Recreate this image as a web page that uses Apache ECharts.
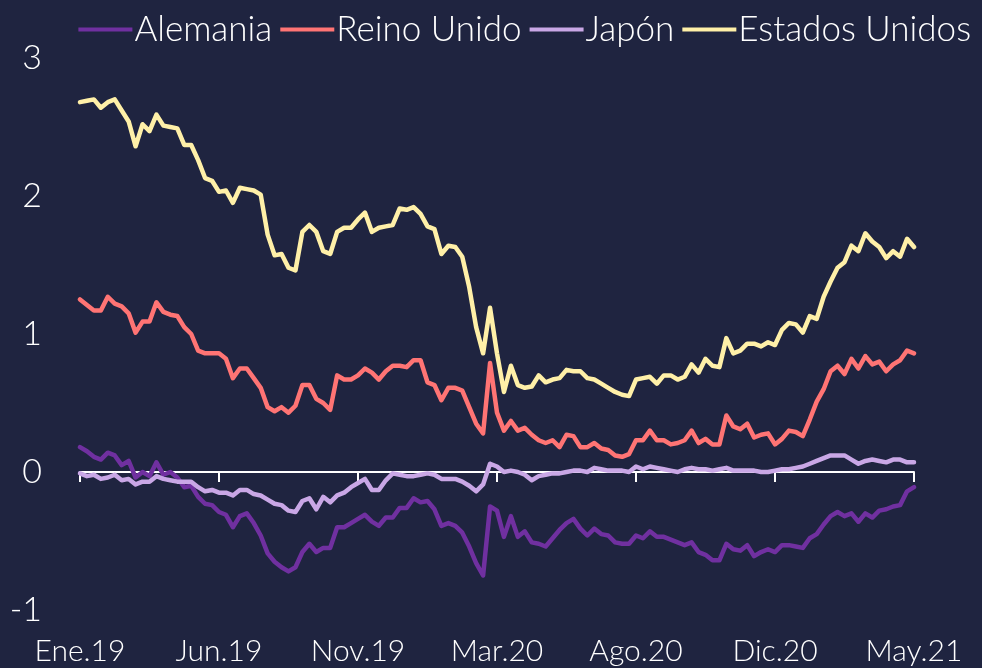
<!DOCTYPE html>
<html>
<head>
<meta charset="utf-8">
<script src="https://cdn.jsdelivr.net/npm/echarts@6/dist/echarts.min.js"></script>
<style>
  html, body { margin: 0; padding: 0; background: #1f2440; }
  #chart { width: 982px; height: 668px; }
</style>
</head>
<body>
<div id="chart"></div>
<script>
// weekly points, Ene.19 .. May.21 (one tick label every 20 weeks)
const tickLabels = ['Ene.19', 'Jun.19', 'Nov.19', 'Mar.20', 'Ago.20', 'Dic.20', 'May.21'];
const seriesNames = ['Alemania', 'Reino Unido', 'Japón', 'Estados Unidos'];

const alemania = [
  0.18, 0.15, 0.11, 0.09, 0.14, 0.12, 0.05, 0.08, -0.04, 0.00,
  -0.03, 0.07, -0.02, 0.00, -0.04, -0.11, -0.10, -0.18, -0.23, -0.24,
  -0.29, -0.31, -0.40, -0.32, -0.30, -0.37, -0.46, -0.59, -0.65, -0.69,
  -0.72, -0.69, -0.58, -0.52, -0.58, -0.55, -0.55, -0.40, -0.40, -0.37,
  -0.34, -0.31, -0.36, -0.39, -0.33, -0.33, -0.26, -0.26, -0.19, -0.22,
  -0.21, -0.27, -0.39, -0.37, -0.39, -0.44, -0.54, -0.66, -0.75, -0.25,
  -0.28, -0.47, -0.32, -0.47, -0.43, -0.51, -0.52, -0.54, -0.48, -0.42,
  -0.37, -0.34, -0.41, -0.46, -0.41, -0.45, -0.46, -0.51, -0.52, -0.52,
  -0.46, -0.48, -0.43, -0.47, -0.47, -0.49, -0.51, -0.53, -0.51, -0.58,
  -0.60, -0.64, -0.64, -0.52, -0.56, -0.57, -0.53, -0.61, -0.58, -0.56,
  -0.58, -0.53, -0.53, -0.54, -0.55, -0.48, -0.45, -0.38, -0.32, -0.29,
  -0.32, -0.30, -0.36, -0.30, -0.33, -0.28, -0.27, -0.25, -0.24, -0.14,
  -0.11
];

const reinoUnido = [
  1.25, 1.21, 1.17, 1.17, 1.27, 1.22, 1.20, 1.15, 1.01, 1.09,
  1.09, 1.23, 1.16, 1.14, 1.13, 1.05, 1.00, 0.88, 0.86, 0.86,
  0.86, 0.82, 0.68, 0.75, 0.75, 0.68, 0.61, 0.47, 0.44, 0.47,
  0.43, 0.48, 0.63, 0.63, 0.53, 0.50, 0.45, 0.70, 0.67, 0.67,
  0.70, 0.75, 0.72, 0.67, 0.73, 0.77, 0.77, 0.76, 0.81, 0.81,
  0.65, 0.63, 0.52, 0.61, 0.61, 0.59, 0.47, 0.35, 0.28, 0.79,
  0.43, 0.30, 0.37, 0.30, 0.32, 0.27, 0.23, 0.21, 0.23, 0.18,
  0.27, 0.26, 0.18, 0.18, 0.21, 0.17, 0.16, 0.12, 0.11, 0.13,
  0.23, 0.23, 0.30, 0.23, 0.23, 0.20, 0.21, 0.23, 0.30, 0.21,
  0.24, 0.20, 0.20, 0.41, 0.33, 0.31, 0.35, 0.25, 0.27, 0.28,
  0.20, 0.24, 0.30, 0.29, 0.26, 0.38, 0.51, 0.60, 0.73, 0.77,
  0.71, 0.82, 0.75, 0.84, 0.78, 0.80, 0.73, 0.78, 0.81, 0.88,
  0.86
];

const japon = [
  -0.01, -0.03, -0.02, -0.05, -0.04, -0.02, -0.06, -0.05, -0.09, -0.07,
  -0.07, -0.03, -0.05, -0.06, -0.07, -0.07, -0.07, -0.11, -0.14, -0.13,
  -0.15, -0.15, -0.17, -0.13, -0.13, -0.16, -0.17, -0.20, -0.23, -0.24,
  -0.28, -0.29, -0.21, -0.19, -0.27, -0.18, -0.22, -0.17, -0.15, -0.11,
  -0.08, -0.05, -0.13, -0.13, -0.06, -0.01, -0.02, -0.03, -0.03, -0.02,
  -0.01, -0.02, -0.05, -0.05, -0.05, -0.07, -0.10, -0.14, -0.09, 0.06,
  0.04, 0.00, 0.01, 0.00, -0.02, -0.06, -0.03, -0.02, -0.01, -0.01,
  0.00, 0.01, 0.01, 0.00, 0.03, 0.02, 0.01, 0.01, 0.01, 0.00,
  0.04, 0.02, 0.04, 0.03, 0.02, 0.01, 0.00, 0.02, 0.03, 0.02,
  0.02, 0.01, 0.02, 0.03, 0.01, 0.01, 0.01, 0.01, 0.00, 0.00,
  0.01, 0.02, 0.02, 0.03, 0.04, 0.06, 0.08, 0.10, 0.12, 0.12,
  0.12, 0.09, 0.06, 0.08, 0.09, 0.08, 0.07, 0.09, 0.09, 0.07,
  0.07
];

const estadosUnidos = [
  2.68, 2.69, 2.70, 2.64, 2.68, 2.70, 2.62, 2.54, 2.36, 2.52,
  2.47, 2.59, 2.51, 2.50, 2.49, 2.37, 2.37, 2.26, 2.13, 2.11,
  2.03, 2.04, 1.95, 2.06, 2.05, 2.04, 2.01, 1.72, 1.57, 1.58,
  1.48, 1.46, 1.74, 1.79, 1.74, 1.60, 1.58, 1.74, 1.77, 1.77,
  1.83, 1.88, 1.74, 1.77, 1.78, 1.79, 1.91, 1.90, 1.92, 1.87,
  1.78, 1.76, 1.58, 1.64, 1.63, 1.56, 1.34, 1.05, 0.86, 1.19,
  0.86, 0.58, 0.77, 0.63, 0.61, 0.62, 0.70, 0.65, 0.67, 0.68,
  0.74, 0.73, 0.73, 0.68, 0.67, 0.64, 0.61, 0.58, 0.56, 0.55,
  0.67, 0.68, 0.69, 0.64, 0.70, 0.70, 0.67, 0.69, 0.78, 0.72,
  0.82, 0.77, 0.76, 0.97, 0.86, 0.88, 0.93, 0.93, 0.91, 0.94,
  0.92, 1.03, 1.08, 1.07, 1.01, 1.13, 1.11, 1.27, 1.38, 1.48,
  1.52, 1.64, 1.60, 1.73, 1.67, 1.63, 1.55, 1.60, 1.56, 1.69,
  1.63
];

const colors = ['#7030a0', '#ff7474', '#c9a7e6', '#fff0a8'];
const FONT = "Lato, 'Open Sans', sans-serif";
const TICK_STEP = 20;

function toPoints(values) {
  return values.map((v, i) => [i, v]);
}

function getOption() {
  const allSeries = [alemania, reinoUnido, japon, estadosUnidos];
  const last = estadosUnidos.length - 1;
  return {
    backgroundColor: '#1f2440',
    color: colors,
    animation: false,
    legend: {
      data: seriesNames,
      right: 6,
      top: 7,
      icon: 'rect',
      itemWidth: 54,
      itemHeight: 4,
      itemGap: 8,
      textStyle: {
        color: '#ffffff',
        fontFamily: FONT,
        fontWeight: 300,
        fontSize: 35,
        padding: [0, 0, 0, -3]
      }
    },
    grid: {
      left: 80,
      right: 68,
      top: 58,
      bottom: 58
    },
    xAxis: [
      {
        type: 'value',
        min: 0,
        max: last,
        interval: TICK_STEP,
        axisLine: {
          onZero: true,
          lineStyle: { color: '#ffffff', width: 2 }
        },
        axisTick: {
          show: true,
          length: 10,
          lineStyle: { color: '#ffffff', width: 2 }
        },
        axisLabel: { show: false },
        splitLine: { show: false }
      },
      {
        type: 'value',
        position: 'bottom',
        min: 0,
        max: last,
        interval: TICK_STEP,
        axisLine: { show: false, onZero: false },
        axisTick: { show: false },
        splitLine: { show: false },
        axisLabel: {
          color: '#ffffff',
          fontFamily: FONT,
          fontWeight: 300,
          fontSize: 30,
          margin: 26,
          formatter: (v) => tickLabels[Math.round(v / TICK_STEP)] || ''
        }
      }
    ],
    yAxis: {
      type: 'value',
      min: -1,
      max: 3,
      interval: 1,
      axisLine: { show: false },
      axisTick: { show: false },
      splitLine: { show: false },
      axisLabel: {
        color: '#ffffff',
        fontFamily: FONT,
        fontWeight: 300,
        fontSize: 34,
        margin: 38
      }
    },
    series: allSeries.map((values, k) => ({
      name: seriesNames[k],
      type: 'line',
      xAxisIndex: 0,
      data: toPoints(values),
      showSymbol: false,
      symbol: 'none',
      lineStyle: { width: 4.5, color: colors[k], join: 'round', cap: 'round' }
    }))
  };
}

const chart = echarts.init(document.getElementById('chart'));
chart.setOption(getOption());
window.onresize = () => {
  chart.resize();
};
</script>
</body>
</html>
